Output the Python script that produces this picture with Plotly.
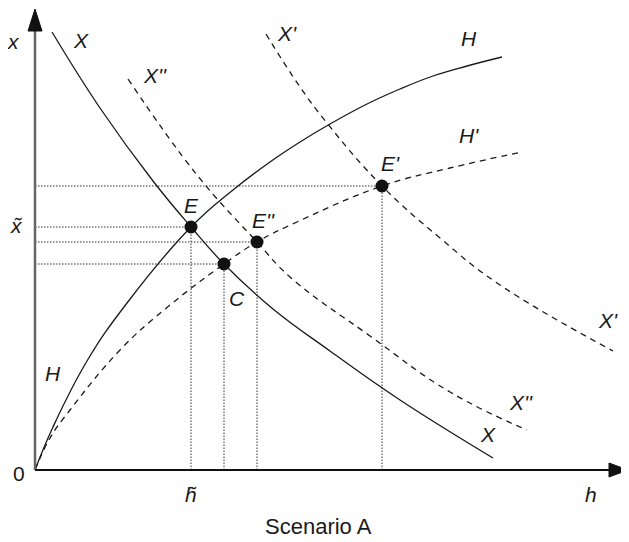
import plotly.graph_objects as go

# ---- data (h, x) ----
H_h = [0, 1.8, 5.2, 9.2, 15.6, 19.8, 23.5, 26.5, 29.5, 33.2, 36.5, 39.8, 43.2, 46.7]
H_x = [0, 4.3, 10.9, 16.7, 24.3, 28.0, 30.8, 32.8, 34.6, 36.6, 38.1, 39.4, 40.4, 41.3]

Hp_h = [0, 1.5, 3.5, 8.5, 12.9, 18.9, 22.2, 26.2, 34.7, 41.5, 48.7]
Hp_x = [0, 3.2, 6.0, 12.0, 16.0, 20.6, 22.8, 24.8, 28.4, 30.2, 31.8]

X_h = [1.7, 6.5, 11.8, 15.6, 18.9, 23.8, 29.5, 36.5, 45.8]
X_x = [43.8, 36.2, 28.9, 24.3, 20.6, 16.1, 11.9, 7.0, 1.2]

Xpp_h = [9.3, 16.2, 22.2, 25.5, 33.5, 41.5, 49.2]
Xpp_x = [39.1, 29.5, 22.8, 19.3, 13.4, 7.8, 4.0]

Xp_h = [23.1, 26.5, 29.2, 34.7, 40.5, 46.2, 57.8]
Xp_x = [43.6, 38.3, 34.7, 28.4, 23.2, 18.7, 11.9]

pt_names = ["E", "C", "E''", "E'"]
pt_h = [15.6, 18.9, 22.2, 34.7]
pt_x = [24.3, 20.6, 22.8, 28.4]

# page has an 8px body margin; figure is 621x534 so it fills the 629x542 window
H_RANGE = [-2.7, 59.4]
X_RANGE = [-7.2, 46.2]

FONT = "Liberation Sans, Arial, sans-serif"
INK = "#1a1a1a"

fig = go.Figure()

def curve(hs, xs, dash):
    fig.add_trace(go.Scatter(x=hs, y=xs, mode="lines",
                             line=dict(color=INK, width=1.3, dash=dash, shape="spline", smoothing=1.2),
                             hoverinfo="skip", showlegend=False, cliponaxis=False))

curve(H_h, H_x, "solid")
curve(Hp_h, Hp_x, "6px,5px")
curve(X_h, X_x, "solid")
curve(Xpp_h, Xpp_x, "6px,5px")
curve(Xp_h, Xp_x, "6px,5px")

shapes = []
# dotted guide lines
for h, x in zip(pt_h, pt_x):
    shapes.append(dict(type="line", x0=0, x1=h, y0=x, y1=x,
                       line=dict(color="#333", width=1, dash="1.5px,1.5px"), layer="below"))
    shapes.append(dict(type="line", x0=h, x1=h, y0=0, y1=x,
                       line=dict(color="#333", width=1, dash="1.5px,1.5px"), layer="below"))

# axes
y_tip, y_base = 46.1, 43.9
x_tip, x_base = 59.3, 57.4
shapes.append(dict(type="line", x0=0, x1=0, y0=0, y1=y_base, line=dict(color="#666", width=2.5)))
shapes.append(dict(type="line", x0=0, x1=x_base, y0=0, y1=0, line=dict(color="#111", width=2)))
shapes.append(dict(type="path", path=f"M -0.7 {y_base} L 0.7 {y_base} L 0 {y_tip} Z",
                   fillcolor="#111", line=dict(color="#111", width=1)))
shapes.append(dict(type="path", path=f"M {x_base} -0.7 L {x_base} 0.7 L {x_tip} 0 Z",
                   fillcolor="#111", line=dict(color="#111", width=1)))

fig.add_trace(go.Scatter(x=pt_h, y=pt_x, mode="markers",
                         marker=dict(color="#111", size=13),
                         hoverinfo="skip", showlegend=False))

S = 21
labels = [
    ("x", -2.2, 42.9, True, S),
    ("X", 4.6, 43.0, True, S),
    ("X''", 12.0, 39.5, True, S),
    ("X'", 25.2, 43.7, True, S),
    ("H", 43.4, 43.2, True, S),
    ("H'", 43.4, 33.5, True, S),
    ("E'", 35.5, 30.7, True, S),
    ("E", 15.6, 26.5, True, S),
    ("E''", 22.8, 25.0, True, S),
    ("C", 20.2, 17.2, True, S),
    ("x\u0303", -1.9, 24.5, True, S),
    ("h\u0303", 15.6, -2.4, True, S),
    ("h", 55.6, -2.4, True, S),
    ("0", -1.6, -0.3, False, S),
    ("Scenario A", 28.3, -5.6, False, 22),
    ("H", 1.8, 9.7, True, S),
    ("X", 45.3, 3.6, True, S),
    ("X''", 48.6, 6.8, True, S),
    ("X'", 57.3, 15.0, True, S),
]
annotations = []
for text, h, x, it, sz in labels:
    t = f"<i>{text}</i>" if it else text
    annotations.append(dict(x=h, y=x, text=t, showarrow=False, xanchor="center", yanchor="middle",
                            font=dict(family=FONT, size=sz, color=INK)))

fig.update_layout(
    width=621, height=534,
    margin=dict(l=0, r=0, t=0, b=0),
    paper_bgcolor="white", plot_bgcolor="white",
    xaxis=dict(range=H_RANGE, visible=False, fixedrange=True),
    yaxis=dict(range=X_RANGE, visible=False, fixedrange=True),
    shapes=shapes, annotations=annotations,
)

fig.write_html("out.html")
